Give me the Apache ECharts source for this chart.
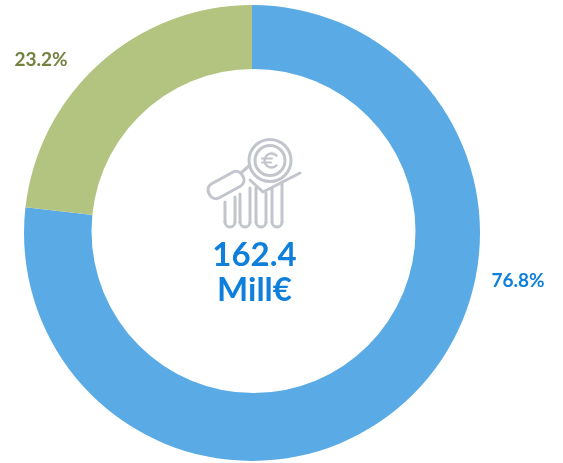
<!DOCTYPE html>
<html>
<head>
<meta charset="utf-8">
<style>html,body{margin:0;padding:0;background:#fff}#c{width:563px;height:463px}</style>
<script src="https://cdn.jsdelivr.net/npm/echarts@6/dist/echarts.min.js"></script>
</head>
<body>
<div id="c"></div>
<script>
// Budget split shown as a donut with the total in the middle
const names = ['Blue share', 'Green share'];
const shares = [76.8, 23.2];
const totalLines = ['162.4', 'Mill€'];

const BLUE = '#5aabe5', GREEN = '#b3c380', BLUE_TEXT = '#0f7fdc', GREEN_TEXT = '#74823f', ICON = '#c2c6cc';
const FONT = 'Lato, "Open Sans", sans-serif';
const labelSpots = [
  { x: 518, y: 281 },
  { x: 41, y: 60 }
];

// Stroke-only shapes for the icon
const strokeStyle = (w) => ({ fill: 'none', stroke: ICON, lineWidth: w || 3, lineCap: 'round', lineJoin: 'round' });
const poly = (points, w) => ({ type: 'polyline', silent: true, z: 5, shape: { points }, style: strokeStyle(w) });
const ring = (cx, cy, r, w) => ({ type: 'circle', silent: true, z: 5, shape: { cx, cy, r }, style: strokeStyle(w) });
const arc = (cx, cy, r, startAngle, endAngle, w) => ({
  type: 'arc', silent: true, z: 5, shape: { cx, cy, r, startAngle, endAngle, clockwise: true }, style: strokeStyle(w)
});
// One column of the icon: open top, rounded bottom
const column = (left, right, topL, topR) => {
  const r = (right - left) / 2;
  return [
    poly([[left, topL], [left, 222]]),
    poly([[right, topR], [right, 222]]),
    arc(left + r, 222, r, 0, Math.PI)
  ];
};

const chart = echarts.init(document.getElementById('c'), null, { renderer: 'canvas' });
chart.setOption({
  animation: false,
  series: [{
    type: 'pie',
    silent: true,
    center: [252, 233],
    radius: [140, 228],
    startAngle: 90,
    clockwise: true,
    avoidLabelOverlap: false,
    labelLine: { show: false },
    data: [
      { name: names[0], value: shares[0], itemStyle: { color: BLUE }, label: { color: BLUE_TEXT } },
      { name: names[1], value: shares[1], itemStyle: { color: GREEN }, label: { color: GREEN_TEXT } }
    ],
    label: {
      show: true, position: 'outside', formatter: '{c}%', overflow: 'none',
      fontFamily: FONT, fontSize: 19, fontWeight: 700
    },
    labelLayout: (params) => ({
      x: labelSpots[params.dataIndex].x,
      y: labelSpots[params.dataIndex].y,
      align: 'center',
      verticalAlign: 'middle'
    })
  }],
  graphic: [
    // The hole sits a touch off the ring's centre
    {
      type: 'circle', silent: true, z: 4,
      shape: { cx: 253.5, cy: 231, r: 162 },
      style: { fill: '#fff' }
    },
    // Magnifier: lens, neck and handle
    ring(270, 160.5, 21),
    ring(270, 160.5, 15),
    poly([[242, 172], [250, 165]]),
    {
      type: 'rect', silent: true, z: 5, x: 226, y: 185, rotation: 0.5,
      shape: { x: -19, y: -8, width: 38, height: 16, r: 7 },
      style: strokeStyle(3)
    },
    // Euro sign inside the lens
    arc(271.5, 160.5, 7, 0.75, -0.75 + Math.PI * 2, 2.4),
    poly([[262, 158.5], [272, 158.5]], 2.2),
    poly([[262, 162.5], [271, 162.5]], 2.2),
    // Trend line over the columns
    poly([[250, 180], [263, 192], [300, 173]]),
    // Four columns
    ...column(225, 235, 202, 197),
    ...column(240, 250, 194, 188),
    ...column(256, 266, 188, 193),
    ...column(272, 282, 188, 182),
    // Total in the middle
    {
      type: 'text', silent: true, z: 5,
      style: { x: 254.5, y: 255.5, text: totalLines[0], fill: BLUE_TEXT, fontFamily: FONT, fontSize: 33, fontWeight: 700, align: 'center', verticalAlign: 'middle' }
    },
    {
      type: 'text', silent: true, z: 5,
      style: { x: 254.5, y: 290.5, text: totalLines[1], fill: BLUE_TEXT, fontFamily: FONT, fontSize: 33, fontWeight: 700, align: 'center', verticalAlign: 'middle' }
    }
  ]
});
</script>
</body>
</html>
